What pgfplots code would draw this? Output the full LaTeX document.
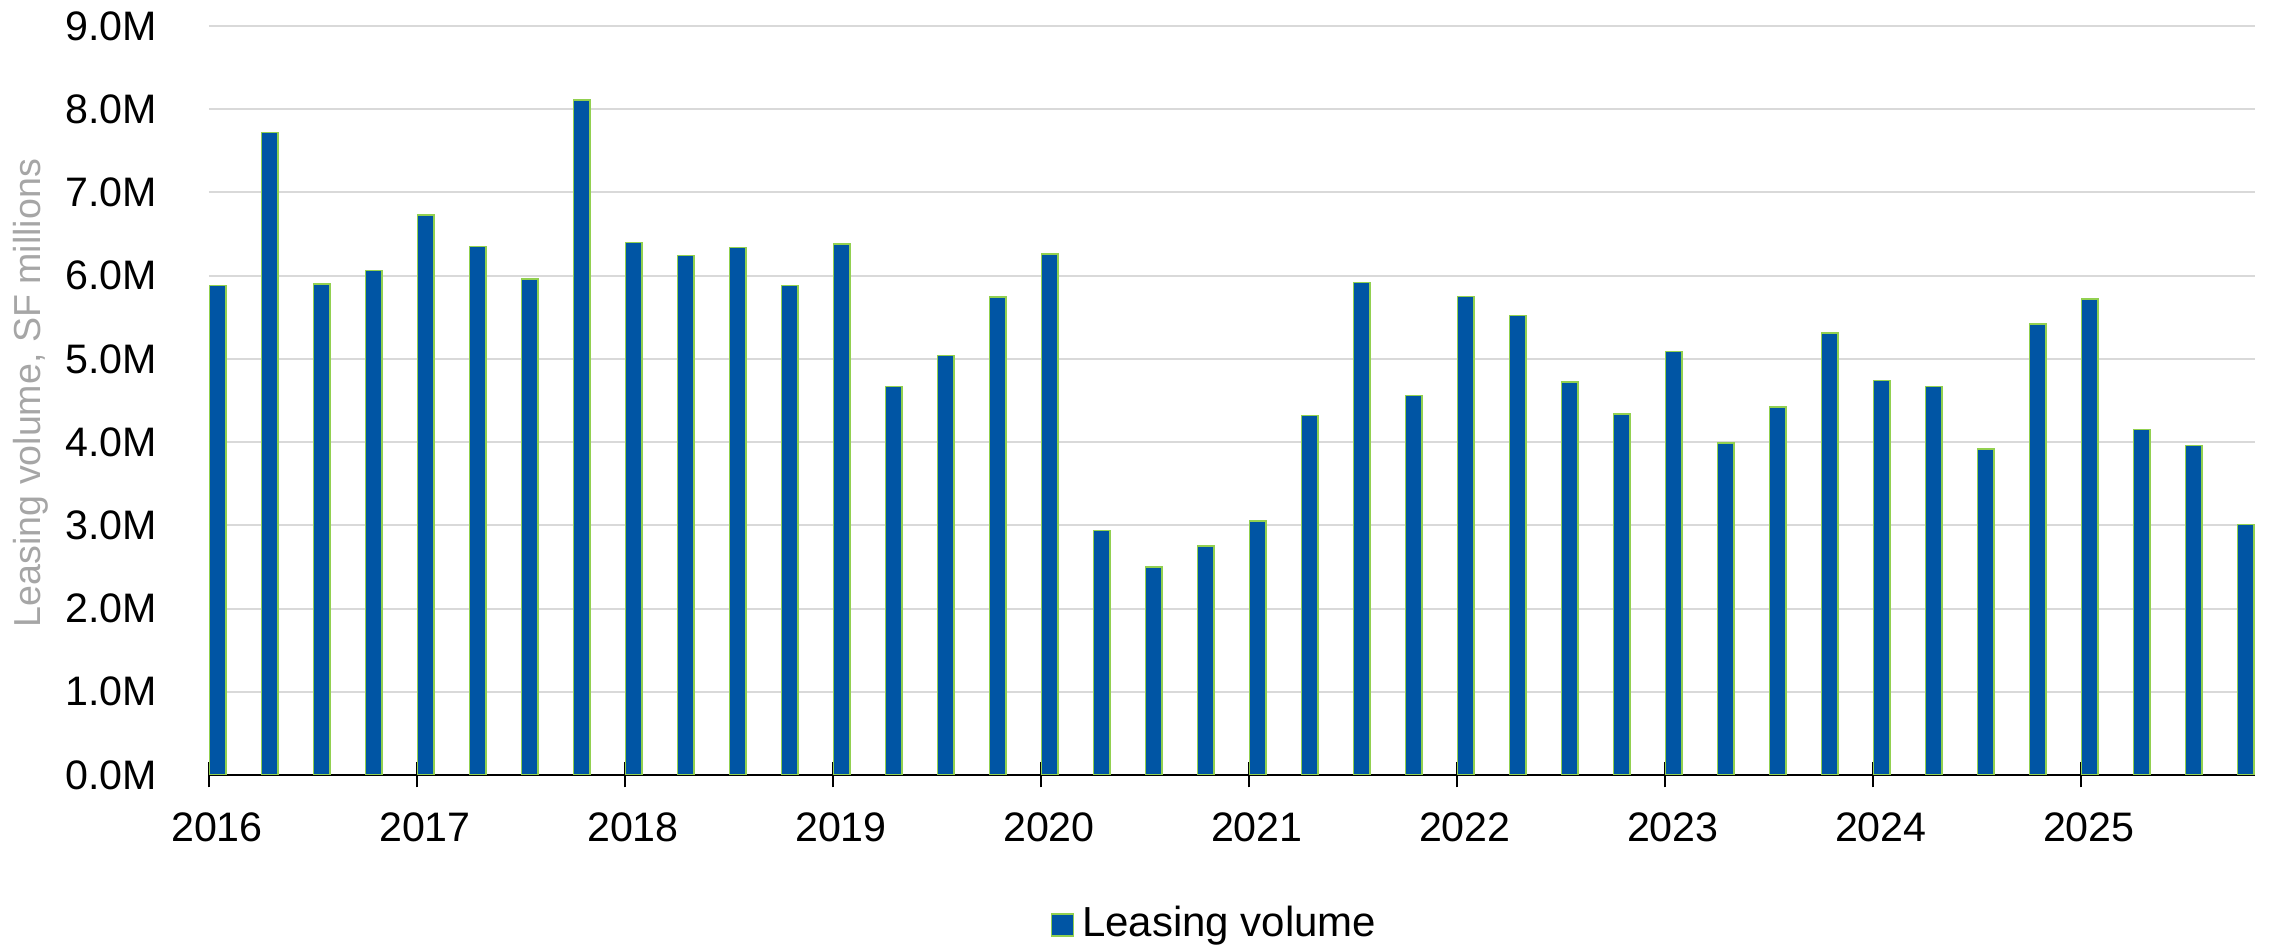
\documentclass[border=0pt]{standalone}
\usepackage{pgfplots}
\pgfplotsset{compat=1.18}
\usepackage{pgfplotstable}
\usepackage{fontspec}
\setmainfont{Liberation Sans}
\definecolor{barblue}{RGB}{0,85,164}
\definecolor{bargreen}{RGB}{146,208,80}
\definecolor{gridgray}{RGB}{217,217,217}
\definecolor{labelgray}{RGB}{166,166,166}

\pgfplotstableread{
q   v
0   5.88
1   7.72
2   5.90
3   6.06
4   6.73
5   6.35
6   5.96
7   8.11
8   6.40
9   6.24
10  6.34
11  5.88
12  6.38
13  4.67
14  5.04
15  5.74
16  6.26
17  2.94
18  2.50
19  2.75
20  3.05
21  4.32
22  5.92
23  4.56
24  5.75
25  5.52
26  4.72
27  4.34
28  5.09
29  3.99
30  4.42
31  5.31
32  4.74
33  4.67
34  3.92
35  5.42
36  5.72
37  4.15
38  3.96
39  3.01
}\leasing

\begin{document}
\fontsize{10.3pt}{12pt}\selectfont
\begin{tikzpicture}
\begin{axis}[
  at={(0pt,0pt)}, anchor=south west,
  width=511.5pt, height=187.25pt, scale only axis,
  xmin=0, xmax=39.35, ymin=0, ymax=9,
  axis x line*=bottom, axis y line*=left,
  x axis line style={-, black, line width=0.6pt},
  y axis line style={draw=none},
  ytick={0,1,2,3,4,5,6,7,8,9},
  yticklabels={0.0M,1.0M,2.0M,3.0M,4.0M,5.0M,6.0M,7.0M,8.0M,9.0M},
  ytick style={draw=none},
  xtick={0,4,8,12,16,20,24,28,32,36},
  xticklabels={2016,2017,2018,2019,2020,2021,2022,2023,2024,2025},
  xtick style={black, line width=0.6pt},
  tick align=center, major tick length=6.25pt,
  ymajorgrids, grid style={gridgray, line width=0.5pt},
  yticklabel style={anchor=east, inner sep=0pt, xshift=-9.75pt, font=\fontsize{10.3pt}{12pt}\selectfont},
  xticklabel style={anchor=north, inner sep=0pt, yshift=-6pt, xshift=2pt, font=\fontsize{10.3pt}{12pt}\selectfont},
  ylabel={Leasing volume, SF millions},
  ylabel style={at={(axis description cs:-0.087,0.51)}, anchor=center, rotate=0, color=labelgray, inner sep=0pt, font=\fontsize{9.4pt}{11pt}\selectfont},
  legend style={at={(axis description cs:0.4929,-0.2)}, anchor=center, draw=none, inner sep=0pt, font=\fontsize{10.5pt}{12pt}\selectfont},
  legend image code/.code={\draw[#1] (0pt,-2.75pt) rectangle (5.5pt,2.75pt);},
]
\addplot[ybar, bar width=0.319, bar shift=0.173, fill=barblue, draw=bargreen, line width=0.4pt]
  table[x=q, y=v] {\leasing};
\addlegendentry{Leasing volume}
\end{axis}
\pgfresetboundingbox
\path[use as bounding box] (-52.25pt,-43.5pt) rectangle (515.25pt,193.75pt);
\end{tikzpicture}
\end{document}
